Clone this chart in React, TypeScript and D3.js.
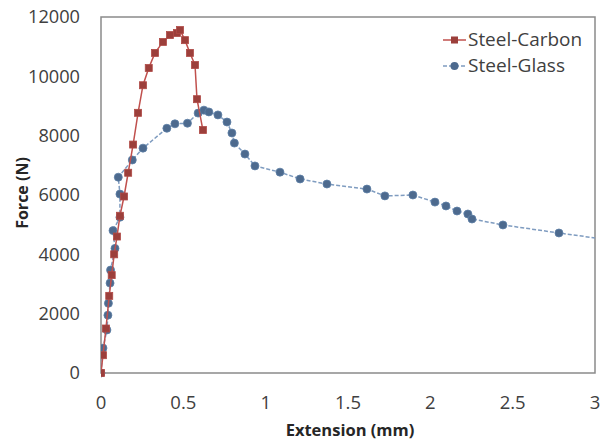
import React from "react";
import * as d3 from "d3";

const carbonX = [0, 0.012, 0.03, 0.05, 0.065, 0.08, 0.097, 0.115, 0.14, 0.165, 0.195, 0.225, 0.255, 0.29, 0.328, 0.376, 0.419, 0.461, 0.48, 0.51, 0.54, 0.571, 0.583, 0.619];
const carbonY = [0, 600, 1500, 2600, 3300, 4000, 4600, 5300, 5950, 6750, 7700, 8770, 9700, 10280, 10790, 11160, 11390, 11460, 11560, 11220, 10790, 10380, 9230, 8190];

const glassX = [0, 0.012, 0.036, 0.042, 0.045, 0.055, 0.058, 0.085, 0.073, 0.115, 0.115, 0.105, 0.19, 0.255, 0.4, 0.449, 0.525, 0.59, 0.625, 0.655, 0.71, 0.765, 0.795, 0.81, 0.874, 0.935, 1.087, 1.209, 1.372, 1.615, 1.724, 1.894, 2.028, 2.095, 2.162, 2.228, 2.253, 2.441, 2.781, 3.2];
const glassY = [0, 840, 1450, 1950, 2350, 3030, 3470, 4200, 4800, 5250, 6030, 6600, 7180, 7580, 8250, 8400, 8420, 8760, 8860, 8800, 8700, 8460, 8090, 7750, 7380, 6980, 6770, 6540, 6370, 6200, 5970, 6000, 5760, 5630, 5460, 5360, 5190, 4990, 4720, 4400];

const xTicks = [0, 0.5, 1, 1.5, 2, 2.5, 3];
const yTicks = [0, 2000, 4000, 6000, 8000, 10000, 12000];
const seriesNames = ["Steel-Carbon", "Steel-Glass"];

export default function App() {
  const W = 603, H = 441;
  const left = 101, right = 595, top = 17, bottom = 373;
  const x = d3.scaleLinear().domain([0, 3]).range([left, right]);
  const y = d3.scaleLinear().domain([0, 12000]).range([bottom, top]);
  const carbon = carbonX.map((v, i) => [v, carbonY[i]] as [number, number]);
  const glass = glassX.map((v, i) => [v, glassY[i]] as [number, number]);
  const line = d3.line<[number, number]>().x(d => x(d[0])).y(d => y(d[1]));
  const font = "'Open Sans', 'Liberation Sans', sans-serif";
  const red = "#c0504d";
  const redM = "#9c3f3b";
  const blueL = "#7f9cc0";
  const blueM = "#4d6a8e";
  return (
    <svg width={W} height={H} style={{ position: "absolute", left: 0, top: 0, background: "#fff" }} fontFamily={font}>
      <defs>
        <clipPath id="plot"><rect x={left} y={top - 10} width={right - left} height={bottom - top + 20} /></clipPath>
      </defs>
      <rect x={left} y={top} width={right - left} height={bottom - top} fill="none" stroke="#8a8a8a" strokeWidth={1.5} />
      {yTicks.map(t => (
        <text key={"y" + t} x={80} y={y(t)} dy="0.35em" textAnchor="end" fontSize={18.5} fill="#404040" textLength={String(t).length * 10.4} lengthAdjust="spacingAndGlyphs">{t}</text>
      ))}
      {xTicks.map(t => (
        <text key={"x" + t} x={x(t)} y={403} dy="0.35em" textAnchor="middle" fontSize={18.5} fill="#404040">{t}</text>
      ))}
      <text x={350} y={430} dy="0.35em" textAnchor="middle" fontSize={16.5} fontWeight="bold" fill="#262626">Extension (mm)</text>
      <text transform={`translate(22,193) rotate(-90)`} dy="0.35em" textAnchor="middle" fontSize={16} fontWeight="bold" fill="#262626">Force (N)</text>
      <g clipPath="url(#plot)">
        <path d={line(glass) || ""} fill="none" stroke={blueL} strokeWidth={1.5} strokeDasharray="4,2" />
        {glass.map((d, i) => (
          <circle key={"g" + i} cx={x(d[0])} cy={y(d[1])} r={4} fill={blueM} stroke="#5d7fa6" strokeWidth={0.8} />
        ))}
        <path d={line(carbon) || ""} fill="none" stroke={red} strokeWidth={1.5} />
        {carbon.map((d, i) => (
          <rect key={"c" + i} x={x(d[0]) - 3.5} y={y(d[1]) - 3.5} width={7} height={7} fill={redM} stroke="#b04a46" strokeWidth={0.8} />
        ))}
      </g>
      <g>
        <line x1={443} x2={466} y1={40} y2={40} stroke={red} strokeWidth={1.5} />
        <rect x={451} y={36.5} width={7} height={7} fill={redM} />
        <text x={468} y={40} dy="0.35em" fontSize={18.5} fill="#404040" textLength={114} lengthAdjust="spacingAndGlyphs">{seriesNames[0]}</text>
        <line x1={443} x2={466} y1={66} y2={66} stroke={blueL} strokeWidth={1.5} strokeDasharray="4,2" />
        <circle cx={454.5} cy={66} r={4} fill={blueM} />
        <text x={468} y={66} dy="0.35em" fontSize={18.5} fill="#404040" textLength={97} lengthAdjust="spacingAndGlyphs">{seriesNames[1]}</text>
      </g>
    </svg>
  );
}
